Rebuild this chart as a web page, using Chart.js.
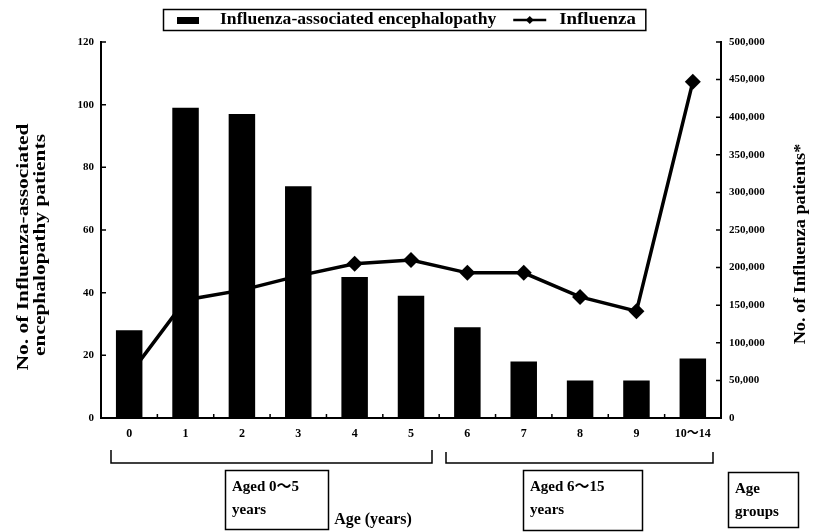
<!DOCTYPE html>
<html>
<head>
<meta charset="utf-8">
<script src="https://cdn.jsdelivr.net/npm/chart.js@4/dist/chart.umd.min.js"></script>
<style>
html,body{margin:0;padding:0;background:#fff;}
#wrap{width:834px;height:532px;position:relative;}
</style>
</head>
<body>
<div id="wrap"><canvas id="c" width="834" height="532"></canvas></div>
<script>
// ---- data ----
const categories = ['0', '1', '2', '3', '4', '5', '6', '7', '8', '9', '10～14'];
const encephalopathyPatients = [28, 99, 97, 74, 45, 39, 29, 18, 12, 12, 19];
const influenzaPatients = [57000, 157000, 170000, 189000, 205000, 210000, 193000, 193000, 161000, 142000, 447000];
const leftTickValues = [0, 20, 40, 60, 80, 100, 120];
const rightTickValues = [0, 50000, 100000, 150000, 200000, 250000, 300000, 350000, 400000, 450000, 500000];
const seriesNames = ['Influenza-associated encephalopathy', 'Influenza'];
const leftAxisTitle = ['No. of Influenza-associated', 'encephalopathy patients'];
const rightAxisTitle = 'No. of Influenza patients*';
const xAxisTitle = 'Age (years)';
const groupLabels = [['Aged 0～5', 'years'], ['Aged 6～15', 'years']];
const groupHeading = ['Age', 'groups'];

const SERIF = "'Liberation Serif', 'Noto Sans CJK JP', serif";

function wideText(ctx, text, x, y, sx, rot) {
  ctx.save();
  ctx.translate(x, y);
  if (rot) ctx.rotate(rot);
  ctx.scale(sx, 1);
  ctx.fillText(text, 0, 0);
  ctx.restore();
  return ctx.measureText(text).width * sx;
}

const deco = {
  id: 'deco',
  afterDraw(chart) {
    const ctx = chart.ctx;
    const xs = chart.scales.x, yl = chart.scales.y, yr = chart.scales.y2;
    const ca = chart.chartArea;
    ctx.save();
    ctx.strokeStyle = '#000';
    ctx.fillStyle = '#000';
    ctx.lineWidth = 1.5;

    // inward tick marks
    ctx.beginPath();
    yl.ticks.forEach(t => { const y = yl.getPixelForValue(t.value); ctx.moveTo(ca.left, y); ctx.lineTo(ca.left + 5, y); });
    yr.ticks.forEach(t => { const y = yr.getPixelForValue(t.value); ctx.moveTo(ca.right, y); ctx.lineTo(ca.right - 5, y); });
    const step = xs.getPixelForValue(1) - xs.getPixelForValue(0);
    for (let i = 1; i < categories.length; i++) {
      const x = xs.getPixelForValue(i) - step / 2;
      ctx.moveTo(x, ca.bottom); ctx.lineTo(x, ca.bottom - 4);
    }
    ctx.stroke();

    // legend
    ctx.font = 'bold 16px ' + SERIF;
    ctx.textBaseline = 'middle';
    ctx.textAlign = 'left';
    const t1x = 220;
    const t1w = wideText(ctx, seriesNames[0], t1x, 20, 1.1, 0);
    const sw2 = Math.max(t1x + t1w + 17, 512);
    const t2x = sw2 + 46;
    const t2w = wideText(ctx, seriesNames[1], t2x, 20, 1.18, 0);
    ctx.lineWidth = 1.5;
    ctx.strokeRect(163.5, 9.5, (t2x + t2w + 10) - 163.5, 21);
    ctx.fillRect(177, 17, 22, 7);
    ctx.beginPath();
    ctx.lineWidth = 2.5;
    ctx.moveTo(sw2, 20); ctx.lineTo(sw2 + 33, 20);
    ctx.stroke();
    ctx.beginPath();
    ctx.moveTo(sw2 + 16.5, 16); ctx.lineTo(sw2 + 20.5, 20); ctx.lineTo(sw2 + 16.5, 24); ctx.lineTo(sw2 + 12.5, 20);
    ctx.closePath(); ctx.fill();

    // axis titles (rotated, reading bottom to top)
    ctx.textAlign = 'center';
    ctx.font = 'bold 17px ' + SERIF;
    wideText(ctx, leftAxisTitle[0], 24, 247, 1.26, -Math.PI / 2);
    wideText(ctx, leftAxisTitle[1], 41, 245, 1.26, -Math.PI / 2);
    ctx.font = 'bold 16px ' + SERIF;
    wideText(ctx, rightAxisTitle, 801, 244, 1.14, -Math.PI / 2);

    // group brackets
    ctx.lineWidth = 1.5;
    ctx.beginPath();
    ctx.moveTo(111, 450); ctx.lineTo(111, 463); ctx.lineTo(432, 463); ctx.lineTo(432, 450);
    ctx.moveTo(446, 452); ctx.lineTo(446, 463); ctx.lineTo(713, 463); ctx.lineTo(713, 452);
    ctx.stroke();

    // boxes
    const boxes = [
      {x: 225, y: 470, w: 103, h: 59, text: groupLabels[0]},
      {x: 523, y: 470, w: 119, h: 60, text: groupLabels[1]},
      {x: 728, y: 472, w: 70, h: 55, text: groupHeading}
    ];
    ctx.font = 'bold 15px ' + SERIF;
    ctx.textAlign = 'left';
    boxes.forEach(b => {
      ctx.strokeRect(b.x + 0.5, b.y + 0.5, b.w, b.h);
      ctx.fillText(b.text[0], b.x + 7, b.y + 17);
      ctx.fillText(b.text[1], b.x + 7, b.y + 40);
    });

    // x title
    ctx.font = 'bold 16px ' + SERIF;
    ctx.textAlign = 'center';
    ctx.fillText(xAxisTitle, 373, 520);
    ctx.restore();
  }
};

const tickFont = {family: SERIF, size: 11, weight: 'bold'};

new Chart(document.getElementById('c'), {
  data: {
    labels: categories,
    datasets: [
      {
        type: 'bar',
        label: seriesNames[0],
        data: encephalopathyPatients,
        backgroundColor: '#000',
        borderWidth: 0,
        barPercentage: 0.47,
        categoryPercentage: 1,
        yAxisID: 'y',
        order: 2
      },
      {
        type: 'line',
        label: seriesNames[1],
        data: influenzaPatients,
        borderColor: '#000',
        backgroundColor: '#000',
        borderWidth: 3.5,
        pointStyle: 'rectRot',
        pointRadius: 8,
        pointBackgroundColor: '#000',
        pointBorderWidth: 0,
        tension: 0,
        yAxisID: 'y2',
        order: 1
      }
    ]
  },
  options: {
    responsive: false,
    animation: false,
    devicePixelRatio: 1,
    layout: {padding: {top: 42, left: 0, right: 0, bottom: 0}},
    plugins: {
      legend: {display: false},
      tooltip: {enabled: false},
      title: {display: false}
    },
    scales: {
      x: {
        type: 'category',
        offset: true,
        grid: {display: false, drawTicks: false},
        border: {display: true, color: '#000', width: 2},
        ticks: {color: '#000', font: {family: SERIF, size: 12, weight: 'bold'}, padding: 9, maxRotation: 0, autoSkip: false},
        afterFit: s => { s.height = 114; }
      },
      y: {
        position: 'left',
        min: 0, max: 120,
        afterBuildTicks: s => { s.ticks = leftTickValues.map(v => ({value: v})); },
        grid: {display: false, drawTicks: false},
        border: {display: true, color: '#000', width: 2},
        ticks: {color: '#000', font: tickFont, padding: 7},
        afterFit: s => { s.width = 101; }
      },
      y2: {
        position: 'right',
        min: 0, max: 500000,
        afterBuildTicks: s => { s.ticks = rightTickValues.map(v => ({value: v})); },
        grid: {display: false, drawTicks: false},
        border: {display: true, color: '#000', width: 2},
        ticks: {color: '#000', font: tickFont, padding: 8, callback: v => Number(v).toLocaleString('en-US')},
        afterFit: s => { s.width = 113; }
      }
    }
  },
  plugins: [deco]
});
</script>
</body>
</html>
